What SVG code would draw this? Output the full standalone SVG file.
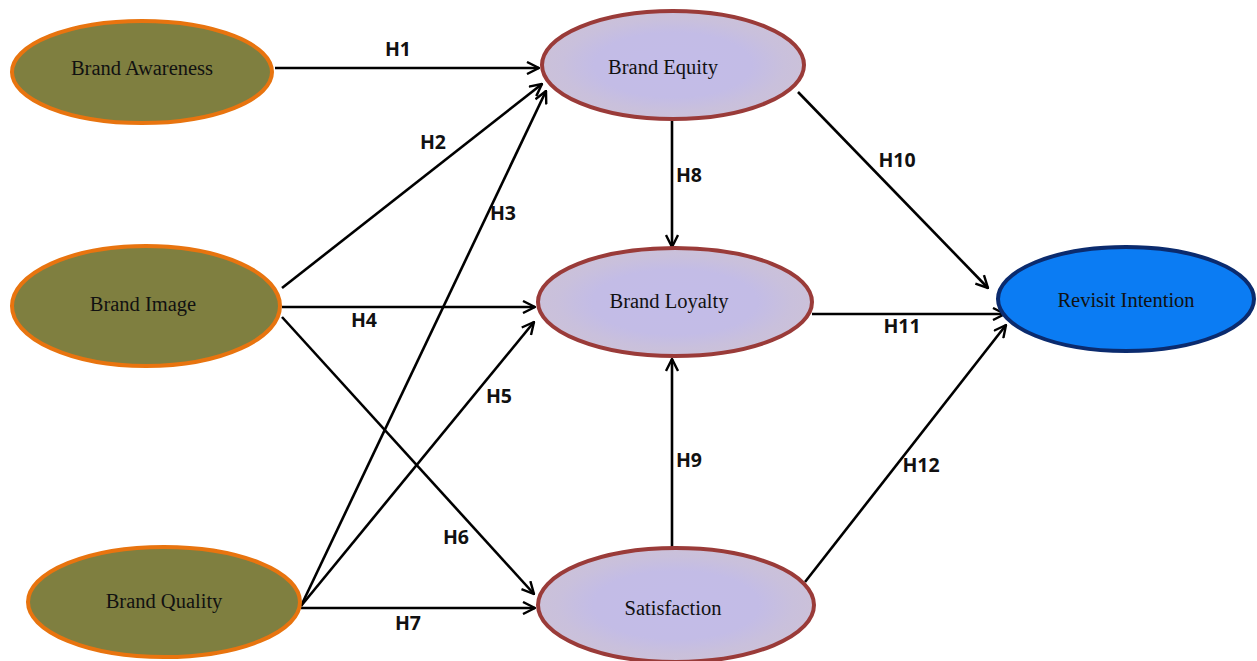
<svg xmlns="http://www.w3.org/2000/svg" width="1257" height="661" viewBox="0 0 1257 661">
<defs>
<marker id="arr" viewBox="0 0 14 14" refX="13" refY="7" markerWidth="14" markerHeight="14" markerUnits="userSpaceOnUse" orient="auto">
<path d="M1,1 L13,7 L1,13" fill="none" stroke="#000" stroke-width="2.4"/>
</marker>
<radialGradient id="pg" cx="0.5" cy="0.5" r="0.5">
<stop offset="0" stop-color="#C3BCE8"/>
<stop offset="0.6" stop-color="#C3BCE6"/>
<stop offset="0.85" stop-color="#C9C0DC"/>
<stop offset="1" stop-color="#CBC1D9"/>
</radialGradient>
</defs>
<style>
.olive{fill:#7F7F40;stroke:#E8740F;stroke-width:4}
.purp{fill:url(#pg);stroke:#9A3B39;stroke-width:4}
.blue{fill:#0B7CF3;stroke:#0B2B6E;stroke-width:4}
.nt{font-family:"Liberation Serif",serif;font-size:20.5px;fill:#111;text-anchor:middle}
.lb{font-family:"Open Sans","Liberation Sans",sans-serif;font-weight:bold;font-size:19.5px;fill:#111;text-anchor:middle}
.ed{stroke:#000;stroke-width:2.6;fill:none;marker-end:url(#arr)}
</style>
<rect width="1257" height="661" fill="#fff"/>
<g id="connectors">
<line class="ed" x1="275" y1="68" x2="539" y2="68"/>
<line class="ed" x1="282" y1="288" x2="542" y2="84"/>
<line class="ed" x1="301" y1="606" x2="546" y2="91"/>
<line class="ed" x1="282" y1="307" x2="535" y2="307"/>
<line class="ed" x1="301" y1="606" x2="534" y2="322"/>
<line class="ed" x1="282" y1="317" x2="534" y2="594"/>
<line class="ed" x1="301" y1="608" x2="535" y2="608"/>
<line class="ed" x1="672" y1="121" x2="672" y2="247"/>
<line class="ed" x1="672" y1="547" x2="672" y2="359"/>
<line class="ed" x1="798" y1="92" x2="988" y2="288"/>
<line class="ed" x1="812" y1="314" x2="1005" y2="314"/>
<line class="ed" x1="805" y1="582" x2="1006" y2="325"/>
<text class="lb" x="398" y="56">H1</text>
<text class="lb" x="433" y="149">H2</text>
<text class="lb" x="503" y="220">H3</text>
<text class="lb" x="364" y="327">H4</text>
<text class="lb" x="499" y="403">H5</text>
<text class="lb" x="456" y="544">H6</text>
<text class="lb" x="408" y="630">H7</text>
<text class="lb" x="689" y="182">H8</text>
<text class="lb" x="689" y="467">H9</text>
<text class="lb" x="897" y="167">H10</text>
<text class="lb" x="902" y="333">H11</text>
<text class="lb" x="921" y="472">H12</text>
</g>
<g id="brand-awareness">
<ellipse class="olive" cx="142" cy="72" rx="130" ry="51"/>
<text class="nt" x="142" y="75">Brand Awareness</text>
</g>
<g id="brand-image">
<ellipse class="olive" cx="146" cy="306" rx="134" ry="60"/>
<text class="nt" x="143" y="311">Brand Image</text>
</g>
<g id="brand-quality">
<ellipse class="olive" cx="164" cy="602" rx="136" ry="55"/>
<text class="nt" x="164" y="608">Brand Quality</text>
</g>
<g id="brand-equity">
<ellipse class="purp" cx="673" cy="65" rx="131" ry="54"/>
<text class="nt" x="663" y="74">Brand Equity</text>
</g>
<g id="brand-loyalty">
<ellipse class="purp" cx="675" cy="302" rx="137" ry="54"/>
<text class="nt" x="669" y="308">Brand Loyalty</text>
</g>
<g id="satisfaction">
<ellipse class="purp" cx="676" cy="605" rx="138" ry="57"/>
<text class="nt" x="673" y="615">Satisfaction</text>
</g>
<g id="revisit-intention">
<ellipse class="blue" cx="1126" cy="299" rx="128" ry="52"/>
<text class="nt" x="1126" y="307">Revisit Intention</text>
</g>
</svg>
